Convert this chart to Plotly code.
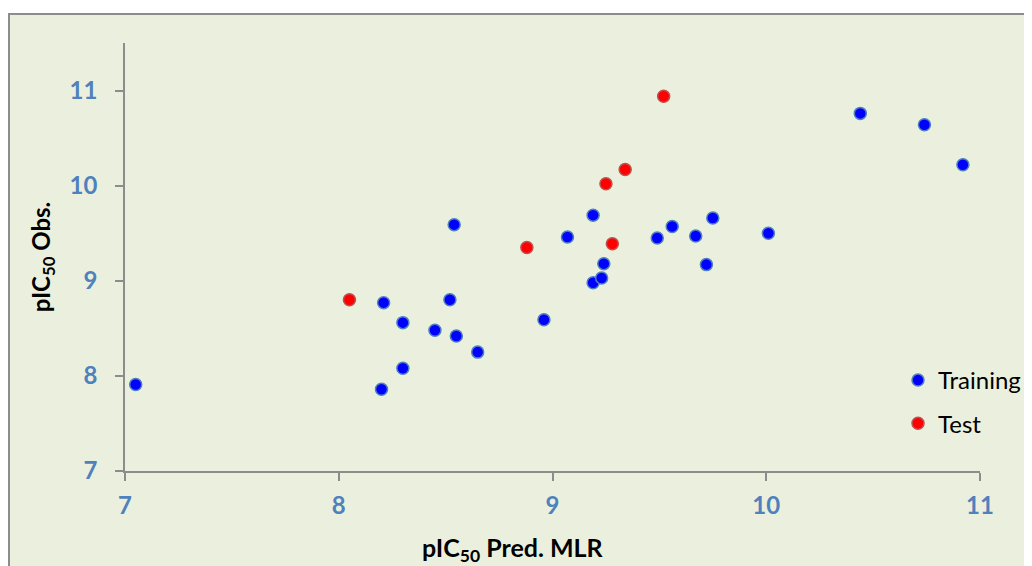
import plotly.graph_objects as go

# Training set: predicted (MLR) vs observed pIC50
train_pred = [7.05, 8.20, 8.21, 8.30, 8.30, 8.45, 8.52, 8.55, 8.54, 8.65, 8.96, 9.07,
              9.19, 9.19, 9.23, 9.24, 9.49, 9.56, 9.67, 9.72, 9.75, 10.01, 10.44, 10.74, 10.92]
train_obs = [7.91, 7.86, 8.77, 8.08, 8.56, 8.48, 8.80, 8.42, 9.59, 8.25, 8.59, 9.46,
             9.69, 8.98, 9.03, 9.18, 9.45, 9.57, 9.47, 9.17, 9.66, 9.50, 10.76, 10.64, 10.22]

# Test set
test_pred = [8.05, 8.88, 9.25, 9.28, 9.34, 9.52]
test_obs = [8.80, 9.35, 10.02, 9.39, 10.17, 10.94]

x_ticks = [7, 8, 9, 10, 11]
y_ticks = [7, 8, 9, 10, 11]

BG = "#EBF0DE"
AXIS = "#8C8C8C"
TICKC = "#4F81BD"
FONT = "Lato"

fig = go.Figure()
fig.add_trace(go.Scatter(
    x=train_pred, y=train_obs, mode="markers", name="Training",
    legendgroup="train",
    marker=dict(color="#0000FF", size=12, line=dict(color="#4F81BD", width=1.5)),
))
fig.add_trace(go.Scatter(
    x=test_pred, y=test_obs, mode="markers", name="Test",
    legendgroup="test",
    marker=dict(color="#FF0000", size=12, line=dict(color="#C0504D", width=1.5)),
))

# page has an 8px body offset; work in page pixels and convert
OFF = 8
W, H = 1032 - OFF, 566 - OFF
L, R, T, B = 125 - OFF, 52, 43 - OFF, 95
pw, ph = W - L - R, H - T - B

def px_x(p):  # page pixel -> paper x
    return (p - OFF - L) / pw

def px_y(p):  # page pixel -> paper y
    return (H - B - (p - OFF)) / ph

fig.add_shape(type="rect", xref="paper", yref="paper",
              x0=px_x(9), x1=px_x(1045), y0=px_y(580), y1=px_y(14),
              line=dict(color=AXIS, width=2), fillcolor=BG, layer="below")

axis_common = dict(
    showgrid=False, zeroline=False, showline=True, linecolor=AXIS, linewidth=1.5,
    ticks="outside", ticklen=8, tickcolor=AXIS, tickwidth=1.5,
    tickfont=dict(family=FONT, size=24, color=TICKC, weight="bold"),
)

fig.update_xaxes(range=[7, 11], tickvals=x_ticks, ticklabelstandoff=4, **axis_common)
fig.update_yaxes(range=[7, 11.5], tickvals=y_ticks, ticklabelstandoff=13,
                 title=dict(text="pIC<sub>50</sub> Obs.",
                            font=dict(family=FONT, size=24, color="black", weight="bold"),
                            standoff=12),
                 **axis_common)

# x-axis title (offset left of centre, as in the reference)
fig.add_annotation(text="pIC<sub>50</sub> Pred. MLR", xref="paper", yref="paper",
                   x=px_x(513), y=px_y(549), xanchor="center", yanchor="middle",
                   showarrow=False,
                   font=dict(family=FONT, size=25, color="black", weight="bold"))

fig.update_layout(
    width=W, height=H,
    margin=dict(l=L, r=R, t=T, b=B, autoexpand=False),
    paper_bgcolor="white", plot_bgcolor="rgba(0,0,0,0)",
    showlegend=True,
    legend=dict(x=px_x(898), y=px_y(358), xanchor="left", yanchor="top",
                bgcolor="rgba(0,0,0,0)", traceorder="grouped", tracegroupgap=9,
                font=dict(family=FONT, size=24, color="black"), itemwidth=30),
    font=dict(family=FONT),
)

fig.write_html("out.html")
